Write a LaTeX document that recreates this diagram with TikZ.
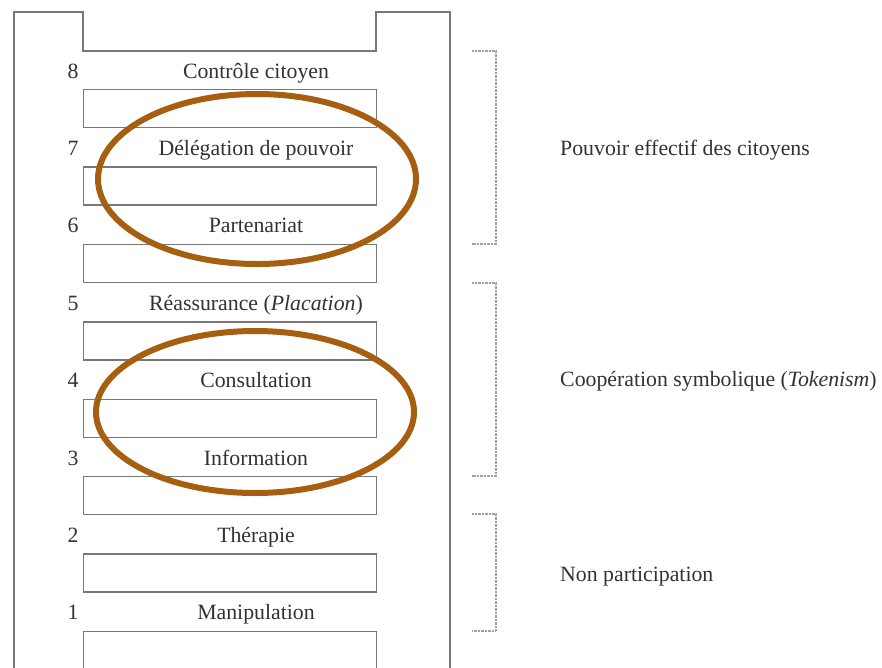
\documentclass[tikz,border=0pt]{standalone}
\usepackage{fontspec}
\setmainfont{Liberation Serif}
\definecolor{txt}{RGB}{50,50,50}
\definecolor{frame}{RGB}{120,120,120}
\definecolor{brk}{RGB}{160,160,160}
\definecolor{oval}{RGB}{166,94,16}
\begin{document}
\begin{tikzpicture}[x=1pt,y=-1pt,
  rung/.style={draw=frame,line width=1.3pt,minimum width=293pt,minimum height=38pt,inner sep=0pt,anchor=north west},
  lbl/.style={font=\fontsize{21.8}{24}\selectfont,text=txt,anchor=base,inner sep=0pt},
  grp/.style={font=\fontsize{21.8}{24}\selectfont,text=txt,anchor=base west,inner sep=0pt},
  brack/.style={draw=brk,line width=1.2pt,dash pattern=on 1pt off 0.4pt},
  ring/.style={draw=oval,line width=6pt}]
\useasboundingbox (0,0) rectangle (882,667);
% outer frame
\coordinate (tl) at (14,12);
\coordinate (bl) at (14,672);
\coordinate (tr) at (450,12);
\coordinate (br) at (450,672);
\draw[frame,line width=1.3pt] (bl) -- (tl) -- (83,12) -- (83,51) -- (376,51) -- (376,12) -- (tr) -- (br);
% rungs
\foreach \i in {0,...,7}{
  \node[rung] (r\i) at (83,{89+77.4*\i}) {};
}
% labels
\foreach \n/\t [count=\k from 0] in {8/Contrôle citoyen,7/Délégation de pouvoir,6/Partenariat,5/{Réassurance (\textit{Placation})},4/Consultation,3/Information,2/Thérapie,1/Manipulation}{
  \node[lbl] (n\n) at (73,{78+77.4*\k}) {\n};
  \node[lbl] (t\n) at (256,{78+77.4*\k}) {\t};
}
% brackets
\coordinate (b1a) at (472,51); \coordinate (b1b) at (496,51);
\coordinate (b1c) at (496,244); \coordinate (b1d) at (472,244);
\draw[brack] (b1a) -- (b1b) -- (b1c) -- (b1d);
\coordinate (b2a) at (472,283); \coordinate (b2b) at (496,283);
\coordinate (b2c) at (496,476); \coordinate (b2d) at (472,476);
\draw[brack] (b2a) -- (b2b) -- (b2c) -- (b2d);
\coordinate (b3a) at (472,514); \coordinate (b3b) at (496,514);
\coordinate (b3c) at (496,631); \coordinate (b3d) at (472,631);
\draw[brack] (b3a) -- (b3b) -- (b3c) -- (b3d);
\node[grp] (g1) at (560,155) {Pouvoir effectif des citoyens};
\node[grp] (g2) at (560,386) {Coopération symbolique (\textit{Tokenism})};
\node[grp] (g3) at (560,581) {Non participation};
% ovals
\draw[ring] (257,179) ellipse [x radius=159, y radius=85];
\draw[ring] (255,412) ellipse [x radius=159, y radius=81];
\end{tikzpicture}
\end{document}
